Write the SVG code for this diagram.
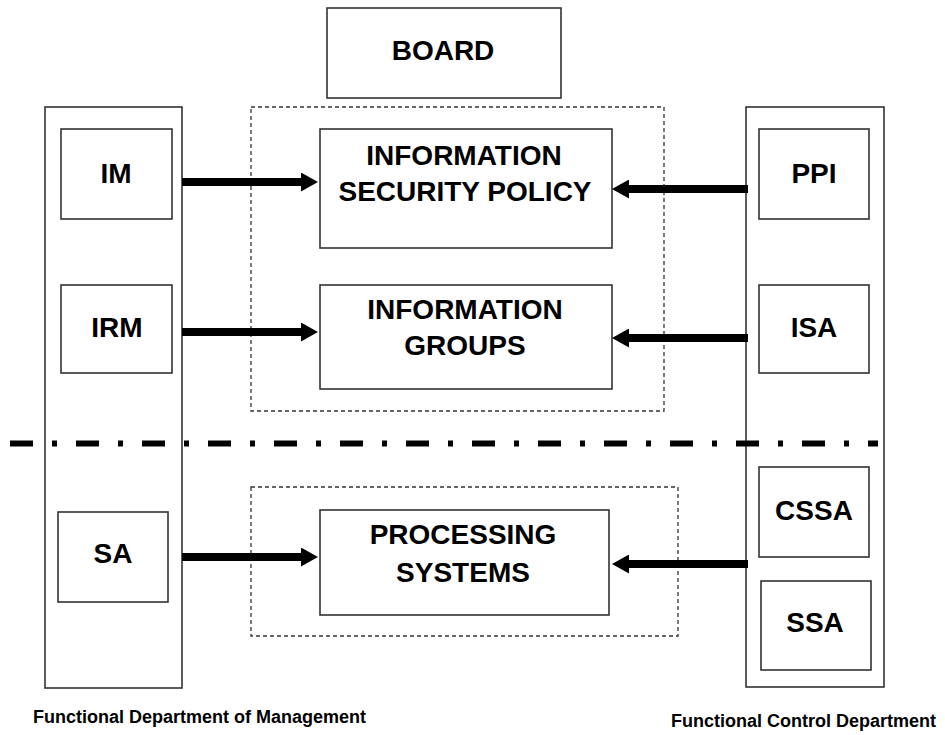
<svg xmlns="http://www.w3.org/2000/svg" width="945" height="735" viewBox="0 0 945 735">
<style>
.box{fill:#fff;stroke:#333;stroke-width:1.6}
.col{fill:none;stroke:#333;stroke-width:1.6}
.dash{fill:none;stroke:#333;stroke-width:1.3;stroke-dasharray:4 3}
.t{font-family:"Liberation Sans",Arial,sans-serif;font-weight:bold;font-size:28px;fill:#000;text-anchor:middle}
.cap{font-family:"Liberation Sans",Arial,sans-serif;font-weight:bold;font-size:18px;fill:#000}
.arr{stroke:#000;stroke-width:8;fill:none}
</style>
<defs>
<marker id="ah" markerUnits="userSpaceOnUse" viewBox="0 0 17 19" markerWidth="17" markerHeight="19" refX="1" refY="9.5" orient="auto">
<path d="M0,0 L17,9.5 L0,19 z" fill="#000"/>
</marker>
</defs>
<rect width="945" height="735" fill="#fff"/>
<g id="cols">
<rect class="col" x="45" y="107" width="137" height="581"/>
<rect class="col" x="746" y="107" width="138" height="580"/>
</g>
<g id="groups">
<rect class="dash" x="251" y="107" width="413" height="304"/>
<rect class="dash" x="251" y="487" width="427" height="149"/>
</g>
<line x1="10" y1="443.5" x2="878" y2="443.5" stroke="#000" stroke-width="6" stroke-dasharray="23 19 5 19"/>
<g id="board"><rect class="box" x="327" y="8" width="234" height="90"/><text class="t" x="443" y="60">BOARD</text></g>
<g id="im"><rect class="box" x="61" y="129" width="111" height="90"/><text class="t" x="116" y="183">IM</text></g>
<g id="irm"><rect class="box" x="61" y="285" width="111" height="88"/><text class="t" x="117" y="337">IRM</text></g>
<g id="sa"><rect class="box" x="58" y="512" width="110" height="90"/><text class="t" x="113" y="563">SA</text></g>
<g id="isp"><rect class="box" x="320" y="129" width="292" height="119"/><text class="t" x="464" y="165">INFORMATION</text><text class="t" x="465" y="201">SECURITY POLICY</text></g>
<g id="ig"><rect class="box" x="320" y="285" width="292" height="104"/><text class="t" x="465" y="319">INFORMATION</text><text class="t" x="465" y="355">GROUPS</text></g>
<g id="ps"><rect class="box" x="320" y="510" width="289" height="105"/><text class="t" x="463" y="544">PROCESSING</text><text class="t" x="463" y="582">SYSTEMS</text></g>
<g id="ppi"><rect class="box" x="759" y="129" width="110" height="90"/><text class="t" x="814" y="183">PPI</text></g>
<g id="isa"><rect class="box" x="759" y="285" width="110" height="88"/><text class="t" x="814" y="337">ISA</text></g>
<g id="cssa"><rect class="box" x="759" y="467" width="110" height="90"/><text class="t" x="814" y="520">CSSA</text></g>
<g id="ssa"><rect class="box" x="761" y="581" width="110" height="89"/><text class="t" x="815" y="632">SSA</text></g>
<g id="connectors">
<line class="arr" x1="182" y1="182" x2="302" y2="182" marker-end="url(#ah)"/>
<line class="arr" x1="182" y1="332" x2="302" y2="332" marker-end="url(#ah)"/>
<line class="arr" x1="182" y1="557" x2="302" y2="557" marker-end="url(#ah)"/>
<line class="arr" x1="748" y1="189" x2="628" y2="189" marker-end="url(#ah)"/>
<line class="arr" x1="748" y1="338" x2="628" y2="338" marker-end="url(#ah)"/>
<line class="arr" x1="748" y1="564" x2="628" y2="564" marker-end="url(#ah)"/>
</g>
<text class="cap" x="33" y="723">Functional Department of Management</text>
<text class="cap" x="671" y="727">Functional Control Department</text>
</svg>
